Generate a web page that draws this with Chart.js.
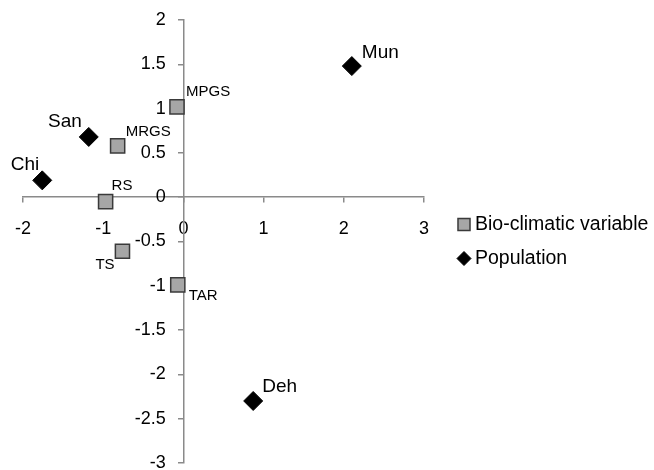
<!DOCTYPE html>
<html>
<head>
<meta charset="utf-8">
<script src="https://cdn.jsdelivr.net/npm/chart.js@4"></script>
<style>
  body { margin: 0; background: #fff; }
  #chartDiv { width: 654px; height: 470px; }
</style>
</head>
<body>
<div id="chartDiv"><canvas id="myChart"></canvas></div>
<script>
// Bio-climatic variables
const bioNames = ['MPGS', 'MRGS', 'RS', 'TS', 'TAR'];
const bioX = [-0.08, -0.82, -0.97, -0.76, -0.07];
const bioY = [1.02, 0.58, -0.05, -0.61, -0.99];

// Populations
const popNames = ['Mun', 'San', 'Chi', 'Deh'];
const popX = [2.1, -1.18, -1.76, 0.87];
const popY = [1.48, 0.68, 0.19, -2.30];

// Axis ticks
const xTicks = [-2, -1, 0, 1, 2, 3];
const yTicks = [-3, -2.5, -2, -1.5, -1, -0.5, 0, 0.5, 1, 1.5, 2];

const FONT = '"Liberation Sans", Arial, sans-serif';
const AXIS_COLOR = '#8a8a8a';

// where each point label sits relative to its marker
const labelOffsets = {
    MPGS: { dx: 9, dy: -15, align: 'left' },
    MRGS: { dx: 8, dy: -14, align: 'left' },
    RS:   { dx: 6, dy: -16, align: 'left' },
    TS:   { dx: -27, dy: 14, align: 'left' },
    TAR:  { dx: 11, dy: 11, align: 'left' },
    Mun:  { dx: 10, dy: -13, align: 'left' },
    San:  { dx: -7, dy: -15, align: 'right' },
    Chi:  { dx: -3, dy: -16, align: 'right' },
    Deh:  { dx: 9, dy: -14, align: 'left' }
};
const labelFonts = ['15px ' + FONT, '19px ' + FONT];

// legend, measured from the right edge of the plot area
const legendBox = { markerX: 40, textX: 51, rowGap: 34, radius: [8.5, 7], font: '19.5px ' + FONT };

const toPoints = (xs, ys) => xs.map((x, i) => ({ x: x, y: ys[i] }));

// Draw the text label next to every point
const pointLabels = {
    id: 'pointLabels',
    afterDatasetsDraw(chart) {
        const ctx = chart.ctx;
        chart.data.datasets.forEach((ds, i) => {
            const meta = chart.getDatasetMeta(i);
            ctx.save();
            ctx.font = labelFonts[i];
            ctx.fillStyle = '#000';
            ctx.textBaseline = 'middle';
            meta.data.forEach((pt, j) => {
                const name = ds.names[j];
                const off = labelOffsets[name];
                ctx.textAlign = off.align;
                ctx.fillText(name, pt.x + off.dx, pt.y + off.dy);
            });
            ctx.restore();
        });
    }
};

// Legend on the right (the built-in one gets squeezed by the centred y axis)
const sideLegend = {
    id: 'sideLegend',
    afterDraw(chart) {
        const { ctx, chartArea } = chart;
        const midY = (chartArea.top + chartArea.bottom) / 2;
        chart.data.datasets.forEach((ds, i) => {
            const y = midY + (i - 0.5) * legendBox.rowGap;
            ctx.save();
            ctx.fillStyle = ds.backgroundColor;
            ctx.strokeStyle = ds.borderColor;
            ctx.lineWidth = ds.borderWidth;
            Chart.helpers.drawPoint(ctx, {
                pointStyle: ds.pointStyle,
                radius: legendBox.radius[i],
                borderWidth: ds.borderWidth
            }, chartArea.right + legendBox.markerX, y);
            ctx.fillStyle = '#000';
            ctx.font = legendBox.font;
            ctx.textAlign = 'left';
            ctx.textBaseline = 'middle';
            ctx.fillText(ds.label, chartArea.right + legendBox.textX, y);
            ctx.restore();
        });
    }
};

// keep the label overhang from shrinking the plot area
const noOverhang = (scale) => {
    scale.paddingLeft = 0;
    scale.paddingRight = 0;
    scale.paddingTop = 0;
    scale.paddingBottom = 0;
};

const ctx = document.getElementById('myChart').getContext('2d');

const myChart = new Chart(ctx, {
    type: 'scatter',
    data: {
        datasets: [{
            label: 'Bio-climatic variable',
            names: bioNames,
            data: toPoints(bioX, bioY),
            pointStyle: 'rect',
            pointRadius: 10,
            backgroundColor: '#a6a6a6',
            borderColor: '#3a3a3a',
            borderWidth: 1.5
        }, {
            label: 'Population',
            names: popNames,
            data: toPoints(popX, popY),
            pointStyle: 'rectRot',
            pointRadius: 9.5,
            backgroundColor: '#000',
            borderColor: '#000',
            borderWidth: 1
        }]
    },
    options: {
        responsive: true,
        maintainAspectRatio: false,
        animation: false,
        events: [],
        layout: { autoPadding: false, padding: { left: 23, top: 20, bottom: 7, right: 230 } },
        scales: {
            x: {
                type: 'linear',
                position: { y: 0 },
                min: -2,
                max: 3,
                afterBuildTicks: (scale) => { scale.ticks = xTicks.map(v => ({ value: v })); },
                afterFit: noOverhang,
                grid: { drawOnChartArea: false, tickLength: 5, color: AXIS_COLOR, lineWidth: 1.5 },
                border: { color: AXIS_COLOR, width: 1.5 },
                ticks: {
                    autoSkip: false,
                    maxRotation: 0,
                    padding: 16,
                    color: '#000',
                    font: { family: FONT, size: 18 },
                    callback: (v) => String(v)
                }
            },
            y: {
                type: 'linear',
                position: { x: 0 },
                min: -3,
                max: 2,
                afterBuildTicks: (scale) => { scale.ticks = yTicks.map(v => ({ value: v })); },
                afterFit: noOverhang,
                grid: { drawOnChartArea: false, tickLength: 5, color: AXIS_COLOR, lineWidth: 1.5 },
                border: { color: AXIS_COLOR, width: 1.5 },
                ticks: {
                    autoSkip: false,
                    color: '#000',
                    font: { family: FONT, size: 18 },
                    // trailing space stands in for the gap to the axis line
                    callback: (v) => String(v) + ' \u2002\u2009'
                }
            }
        },
        plugins: {
            legend: { display: false },
            tooltip: { enabled: false }
        }
    },
    plugins: [pointLabels, sideLegend]
});
</script>
</body>
</html>
